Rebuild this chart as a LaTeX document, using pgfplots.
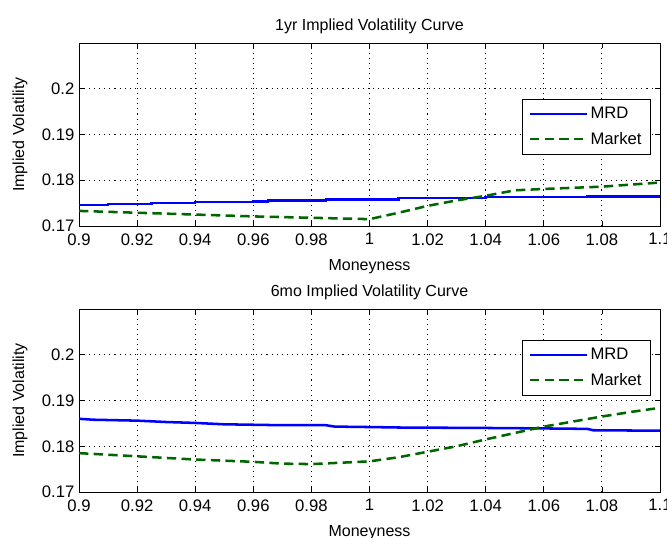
\documentclass[border=0pt]{standalone}
\usepackage{pgfplots}
\pgfplotsset{compat=1.18}
\usepackage{fontspec}
\setmainfont{Liberation Sans}

\pgfplotsset{
  volaxis/.style={
    scale only axis,
    width=435.75pt, height=137.25pt,
    xmin=0.9, xmax=1.1, ymin=0.17, ymax=0.21,
    xtick={0.9,0.92,0.94,0.96,0.98,1,1.02,1.04,1.06,1.08,1.1},
    xticklabels={0.9,0.92,0.94,0.96,0.98,1,1.02,1.04,1.06,1.08,1.1},
    ytick={0.17,0.18,0.19,0.2},
    yticklabels={0.17,0.18,0.19,0.2},
    tick align=inside, tick pos=both,
    major tick length=4pt,
    xmajorgrids, ymajorgrids,
    grid style={black, line width=0.7pt, dash pattern=on 0.8pt off 3pt},
    axis line style={black, line width=0.7pt},
    tick style={black, line width=0.6pt},
    /pgf/number format/assume math mode=true,
    font=\fontsize{12.5}{15}\selectfont,
    ticklabel style={font=\fontsize{12.5}{15}\selectfont},
    xticklabel style={yshift=-2pt},
    xlabel={Moneyness}, ylabel={Implied Volatility},
    xlabel style={yshift=-4pt, font=\fontsize{12}{14}\selectfont},
    ylabel style={yshift=4pt, font=\fontsize{12}{14}\selectfont},
    title style={yshift=-3pt, font=\fontsize{12}{14}\selectfont},
    legend cell align=left,
    legend style={draw=black, fill=white, line width=0.7pt,
      font=\fontsize{12.5}{15}\selectfont, row sep=4.5pt,
      inner xsep=5pt, inner ysep=4pt},
    legend image post style={line width=1.6pt},
    legend image code/.code={\draw[#1] (0cm,0cm) -- (1.5cm,0cm);},
  },
  mrd/.style={blue, line width=1.9pt},
  mkt/.style={black!20!green!50!black, line width=1.9pt, dash pattern=on 7pt off 4pt},
}

\begin{document}
\begin{tikzpicture}
\useasboundingbox (0,0) rectangle (500.25pt,-402.75pt);

% one-year maturity
\begin{axis}[volaxis, at={(59.25pt,-169.5pt)}, anchor=south west,
  title={1yr Implied Volatility Curve},
  legend style={at={(rel axis cs:0.985,0.695)}, anchor=north east}]
\addplot[mrd] coordinates {
  (0.900,0.1746) (0.910,0.1746) (0.910,0.1748) (0.925,0.1748) (0.925,0.1750)
  (0.940,0.1750) (0.940,0.1752) (0.960,0.1752) (0.960,0.1754) (0.965,0.1754)
  (0.965,0.1756) (0.985,0.1756) (0.985,0.1758) (1.010,0.1758) (1.010,0.1761)
  (1.040,0.1761) (1.040,0.1763) (1.075,0.1763) (1.075,0.1765) (1.100,0.1765)};
\addlegendentry{MRD}
\addplot[mkt] coordinates {
  (0.90,0.1733) (0.92,0.1729) (0.94,0.1725) (0.96,0.1721) (0.98,0.1718)
  (1.00,0.1715) (1.01,0.1729) (1.02,0.1744) (1.03,0.1756) (1.04,0.1766)
  (1.05,0.1778) (1.06,0.1781) (1.08,0.1786) (1.10,0.1795)};
\addlegendentry{Market}
\end{axis}

% six-month maturity
\begin{axis}[volaxis, at={(59.25pt,-369pt)}, anchor=south west,
  title={6mo Implied Volatility Curve},
  legend style={at={(rel axis cs:0.985,0.832)}, anchor=north east}]
\addplot[mrd] coordinates {
  (0.900,0.1860) (0.905,0.1858) (0.920,0.1856) (0.930,0.1853) (0.940,0.1851)
  (0.950,0.1848) (0.960,0.1847) (0.970,0.1846) (0.985,0.1846) (0.988,0.1843)
  (1.000,0.1842) (1.010,0.1841) (1.040,0.1840) (1.060,0.1839) (1.075,0.1838)
  (1.077,0.1835) (1.100,0.1834)};
\addlegendentry{MRD}
\addplot[mkt] coordinates {
  (0.90,0.1785) (0.92,0.1778) (0.94,0.1771) (0.96,0.1766) (0.97,0.1762)
  (0.98,0.1761) (1.00,0.1767) (1.01,0.1776) (1.02,0.1788) (1.03,0.1800)
  (1.04,0.1815) (1.05,0.1829) (1.06,0.1843) (1.07,0.1854) (1.08,0.1865)
  (1.09,0.1875) (1.10,0.1884)};
\addlegendentry{Market}
\end{axis}
\end{tikzpicture}
\end{document}
